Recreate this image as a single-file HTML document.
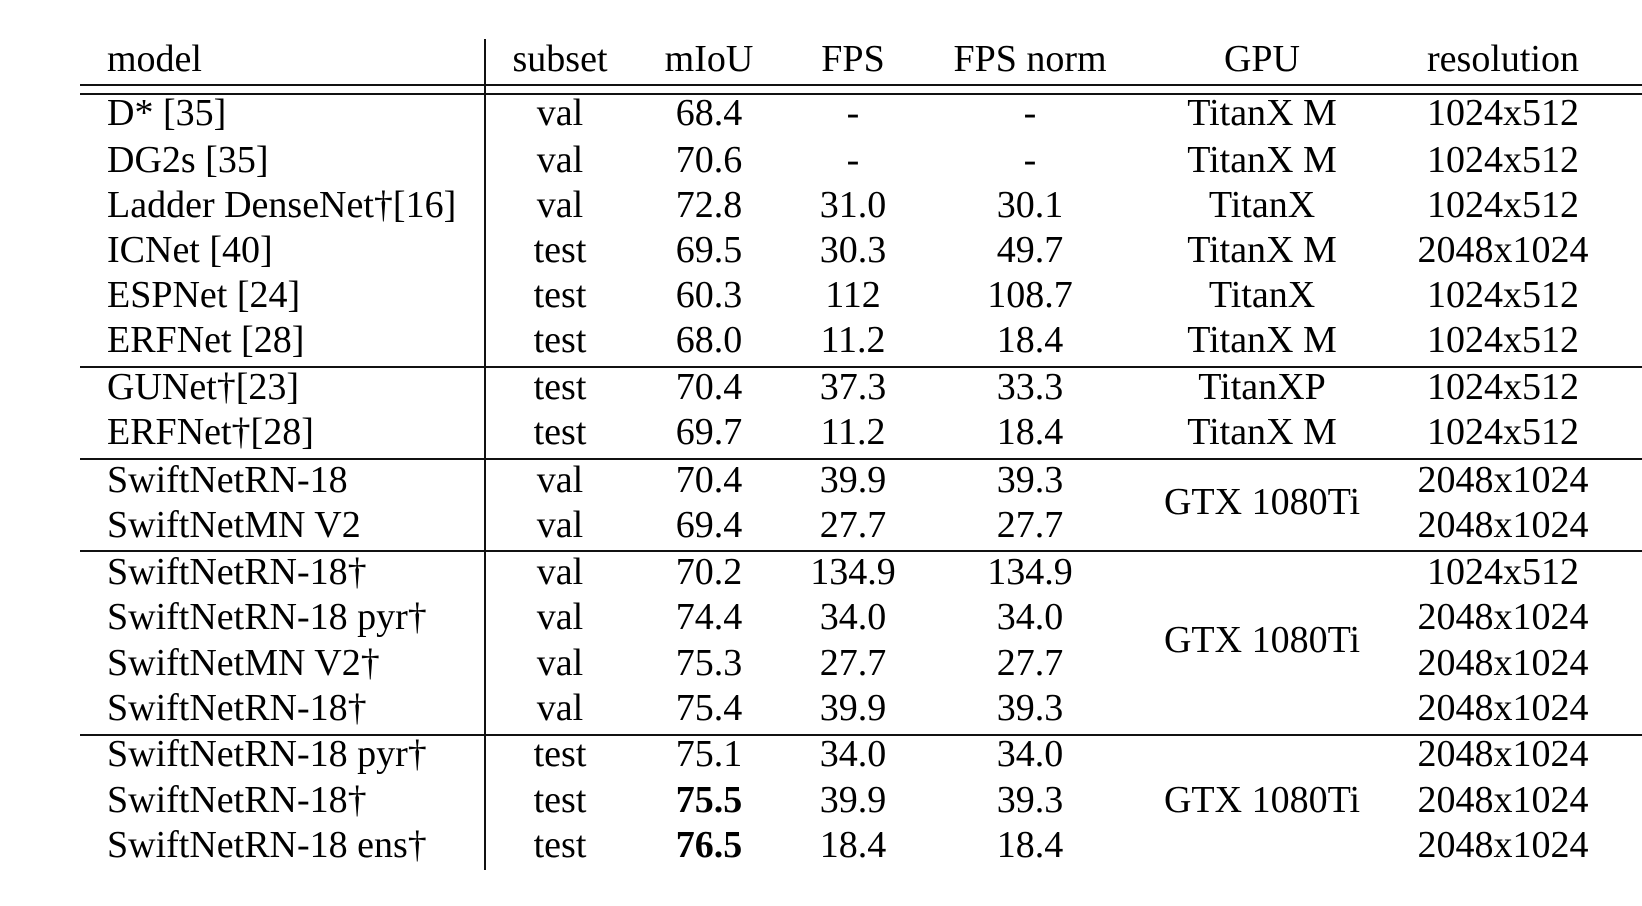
<!DOCTYPE html>
<html><head><style>
body{margin:0;width:1642px;height:906px;background:#fff;position:relative;overflow:hidden;font-family:"Liberation Serif",serif;font-size:38px;color:#000}
.t{position:absolute;white-space:nowrap;line-height:1;transform:translateY(-50%)}
.c{transform:translate(-50%,-50%)}
.h{position:absolute;left:80px;right:0;height:2px;background:#111}
</style></head><body>
<div class="h" style="top:84px"></div>
<div class="h" style="top:93px"></div>
<div class="h" style="top:366px"></div>
<div class="h" style="top:458px"></div>
<div class="h" style="top:550px"></div>
<div class="h" style="top:734px"></div>
<div style="position:absolute;left:484px;top:39px;width:2px;height:831px;background:#111"></div>
<div id="r"></div>
<script>
const cols=[560,709,853,1030,1262,1503];
const rows=[
[59,"model","subset","mIoU","FPS","FPS norm","GPU","resolution"],
[113,"D* [35]","val","68.4","-","-","TitanX M","1024x512"],
[160,"DG2s [35]","val","70.6","-","-","TitanX M","1024x512"],
[205,"Ladder DenseNet†[16]","val","72.8","31.0","30.1","TitanX","1024x512"],
[250,"ICNet [40]","test","69.5","30.3","49.7","TitanX M","2048x1024"],
[295,"ESPNet [24]","test","60.3","112","108.7","TitanX","1024x512"],
[340,"ERFNet [28]","test","68.0","11.2","18.4","TitanX M","1024x512"],
[387,"GUNet†[23]","test","70.4","37.3","33.3","TitanXP","1024x512"],
[432,"ERFNet†[28]","test","69.7","11.2","18.4","TitanX M","1024x512"],
[480,"SwiftNetRN-18","val","70.4","39.9","39.3","","2048x1024"],
[525,"SwiftNetMN V2","val","69.4","27.7","27.7","","2048x1024"],
[572,"SwiftNetRN-18†","val","70.2","134.9","134.9","","1024x512"],
[617,"SwiftNetRN-18 pyr†","val","74.4","34.0","34.0","","2048x1024"],
[663,"SwiftNetMN V2†","val","75.3","27.7","27.7","","2048x1024"],
[708,"SwiftNetRN-18†","val","75.4","39.9","39.3","","2048x1024"],
[754,"SwiftNetRN-18 pyr†","test","75.1","34.0","34.0","","2048x1024"],
[800,"SwiftNetRN-18†","test","<b>75.5</b>","39.9","39.3","","2048x1024"],
[845,"SwiftNetRN-18 ens†","test","<b>76.5</b>","18.4","18.4","","2048x1024"]];
let h="";
for(const r of rows){
 h+=`<div class="t" style="left:107px;top:${r[0]}px">${r[1]}</div>`;
 for(let i=0;i<6;i++) if(r[i+2]) h+=`<div class="t c" style="left:${cols[i]}px;top:${r[0]}px">${r[i+2]}</div>`;
}
for(const y of [502,640,800]) h+=`<div class="t c" style="left:1262px;top:${y}px">GTX 1080Ti</div>`;
document.getElementById("r").innerHTML=h;
</script>
</body></html>
